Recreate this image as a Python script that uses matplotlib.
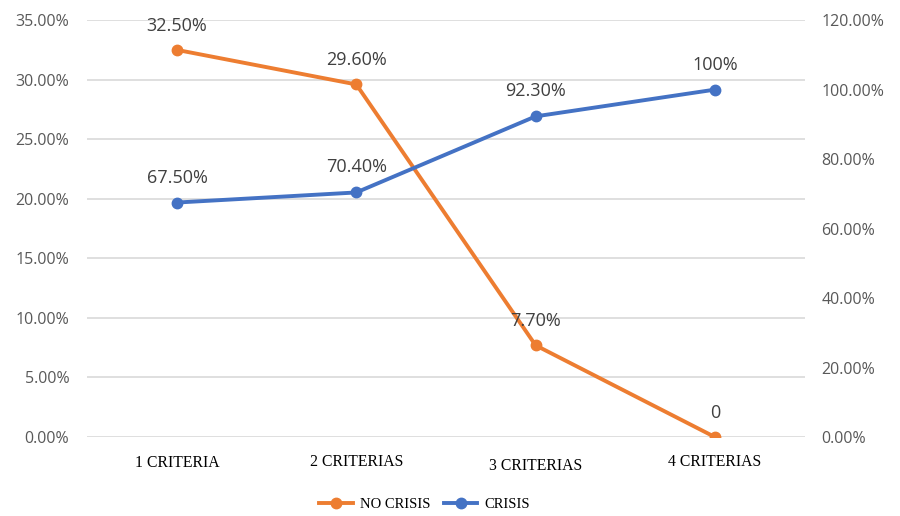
import matplotlib.pyplot as plt
from matplotlib.transforms import blended_transform_factory, offset_copy

categories = ['1 CRITERIA', '2 CRITERIAS', '3 CRITERIAS', '4 CRITERIAS']
no_crisis = [32.5, 29.6, 7.7, 0.0]
crisis = [67.5, 70.4, 92.3, 100.0]
no_crisis_labels = ['32.50%', '29.60%', '7.70%', '0']
crisis_labels = ['67.50%', '70.40%', '92.30%', '100%']
left_ticks = [0, 5, 10, 15, 20, 25, 30, 35]
right_ticks = [0, 20, 40, 60, 80, 100, 120]

orange = '#ED7D31'
blue = '#4472C4'
sans = ['Open Sans', 'DejaVu Sans']
serif = ['Liberation Serif', 'DejaVu Serif']

fig = plt.figure(figsize=(9, 5.16), dpi=100)
ax = fig.add_axes([0.097, 0.153, 0.797, 0.808])
ax2 = ax.twinx()

x = list(range(len(categories)))
l1, = ax.plot(x, no_crisis, color=orange, lw=2.8, marker='o', ms=7.5, label='NO CRISIS', zorder=3)
l2, = ax2.plot(x, crisis, color=blue, lw=2.8, marker='o', ms=7.5, label='CRISIS', zorder=3)

ax.set_xlim(-0.5, 3.5)
ax.set_ylim(0, 35)
ax2.set_ylim(0, 120)
ax.set_yticks(left_ticks)
ax.set_yticklabels([f'{v:.2f}%' for v in left_ticks])
ax2.set_yticks(right_ticks)
ax2.set_yticklabels([f'{v:.2f}%' for v in right_ticks])

ax.grid(axis='y', color='#D9D9D9', lw=1.2)
ax.set_axisbelow(True)
for a in (ax, ax2):
    for s in a.spines.values():
        s.set_visible(False)
    a.tick_params(length=0, labelsize=11.5, labelcolor='#595959')
    for lab in a.get_yticklabels():
        lab.set_family(sans)
ax.tick_params(axis='y', pad=13)
ax2.tick_params(axis='y', pad=12)

# category labels sit slightly uneven below the axis
ax.set_xticks(x)
ax.set_xticklabels([])
trans = blended_transform_factory(ax.transData, ax.transAxes)
y_shift = [0, 1, -3, 1]
for i, name in enumerate(categories):
    ax.text(i, 0, name, transform=offset_copy(trans, fig=fig, x=0, y=-26 + y_shift[i], units='dots'),
            ha='center', va='center', family=serif, fontsize=11.3, color='black')

# value labels above each point
for i in x:
    ax.annotate(no_crisis_labels[i], (i, no_crisis[i]), xytext=(0, 24), textcoords='offset pixels',
                ha='center', va='center', fontsize=13, color='#404040', family=sans)
    ax2.annotate(crisis_labels[i], (i, crisis[i]), xytext=(0, 25), textcoords='offset pixels',
                 ha='center', va='center', fontsize=13, color='#404040', family=sans)

fig.legend(handles=[l1, l2], loc='center', bbox_to_anchor=(0.472, 12 / 516), ncol=2, frameon=False,
           prop={'family': serif, 'size': 10.5}, handlelength=2.3, columnspacing=0.9, handletextpad=0.5)

fig.savefig('out.png', dpi=100)
